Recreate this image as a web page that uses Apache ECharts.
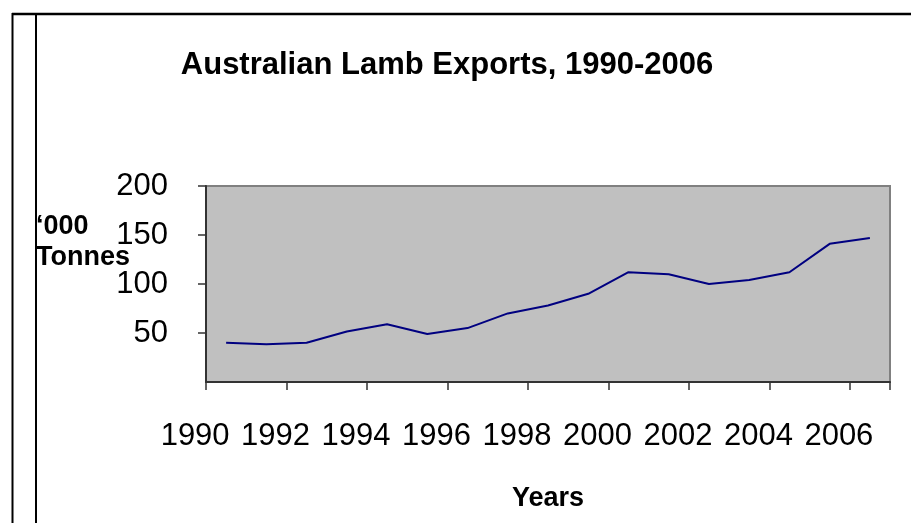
<!DOCTYPE html>
<html>
<head>
<meta charset="utf-8">
<title>Australian Lamb Exports, 1990-2006</title>
<script src="https://cdn.jsdelivr.net/npm/echarts@6/dist/echarts.min.js"></script>
<style>
  html, body { margin: 0; padding: 0; background: #fff; }
  #chart { width: 911px; height: 523px; }
</style>
</head>
<body>
<div id="chart"></div>
<script>
// data ('000 tonnes)
var years = ['1990', '1991', '1992', '1993', '1994', '1995', '1996', '1997', '1998',
  '1999', '2000', '2001', '2002', '2003', '2004', '2005', '2006'];
var lambExports = [40, 38.5, 40, 51.5, 59, 49, 55, 70, 78, 90, 112, 110, 100, 104, 112, 141, 147];
var yTicks = { min: 0, max: 200, interval: 50 };

var font = "'Liberation Sans', Arial, sans-serif";
var chart = echarts.init(document.getElementById('chart'));

chart.setOption({
  backgroundColor: '#ffffff',
  animation: false,
  title: [
    {
      text: 'Australian Lamb Exports, 1990-2006',
      left: 447,
      textAlign: 'center',
      top: 50,
      padding: 0,
      textStyle: { fontFamily: font, fontSize: 31, fontWeight: 'bold', color: '#000' }
    },
    {
      // y axis name
      text: '\u2018000\nTonnes',
      left: 36,
      top: 211,
      padding: 0,
      textStyle: { fontFamily: font, fontSize: 27, fontWeight: 'bold', color: '#000', lineHeight: 31 }
    }
  ],
  grid: {
    left: 206,
    right: 21,
    top: 186,
    bottom: 141,
    show: true,
    backgroundColor: '#c0c0c0',
    borderColor: '#808080',
    borderWidth: 2
  },
  xAxis: {
    type: 'category',
    data: years,
    boundaryGap: true,
    name: 'Years',
    nameLocation: 'middle',
    nameGap: 103,
    nameTextStyle: { fontFamily: font, fontSize: 27, fontWeight: 'bold', color: '#000' },
    axisLine: { show: true, lineStyle: { color: '#333', width: 2 } },
    axisTick: { show: true, length: 8, lineStyle: { color: '#333', width: 1.5 } },
    axisLabel: {
      interval: 1,
      margin: 39,
      fontFamily: font,
      fontSize: 31,
      color: '#000',
      padding: [0, 62, 0, 0]
    }
  },
  yAxis: {
    type: 'value',
    min: yTicks.min,
    max: yTicks.max,
    interval: yTicks.interval,
    axisLine: { show: true, lineStyle: { color: '#333', width: 2 } },
    axisTick: { show: true, length: 8, lineStyle: { color: '#333', width: 1.5 } },
    splitLine: { show: false },
    axisLabel: {
      showMinLabel: false,
      margin: 38,
      fontFamily: font,
      fontSize: 31,
      color: '#000'
    }
  },
  series: [
    {
      name: 'Lamb exports',
      type: 'line',
      data: lambExports,
      symbol: 'none',
      lineStyle: { color: '#000080', width: 2 }
    }
  ],
  graphic: [
    // frame lines around the chart
    { type: 'line', shape: { x1: 12, y1: 14, x2: 911, y2: 14 }, style: { stroke: '#000', lineWidth: 2.5 } },
    { type: 'line', shape: { x1: 12.5, y1: 13, x2: 12.5, y2: 523 }, style: { stroke: '#000', lineWidth: 2 } },
    { type: 'line', shape: { x1: 36, y1: 13, x2: 36, y2: 523 }, style: { stroke: '#000', lineWidth: 2 } }
  ]
});
</script>
</body>
</html>
